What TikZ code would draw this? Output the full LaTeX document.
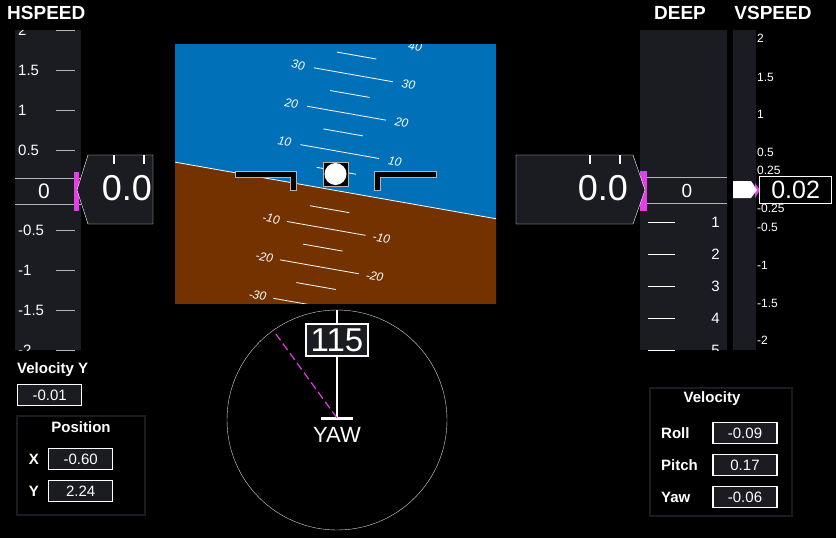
\documentclass[tikz,border=0pt]{standalone}
\usepackage{fontspec}
\setmainfont{Liberation Sans}
\usetikzlibrary{positioning,arrows.meta}
\definecolor{tapebg}{HTML}{1B1C22}
\definecolor{sky}{HTML}{0070B8}
\definecolor{ground}{HTML}{743200}
\definecolor{mag}{HTML}{E83CE8}
\definecolor{tick}{HTML}{B4B4B4}
\tikzset{
  title/.style={text=white, font=\fontsize{19}{19}\selectfont\bfseries, inner sep=0pt},
  tapenum/.style={text=white, font=\fontsize{15}{15}\selectfont, inner sep=0pt},
  pitchnum/.style={text=white, font=\fontsize{12}{12}\selectfont\itshape, inner sep=0pt},
  valbox/.style={draw=white, line width=1.2pt, fill=tapebg, text=white, minimum width=64pt, minimum height=21pt, inner sep=0pt, font=\fontsize{15}{15}\selectfont},
  panel/.style={draw=tapebg, line width=2pt},
  plabel/.style={text=white, font=\fontsize{15}{15}\selectfont\bfseries, inner sep=0pt},
}
\begin{document}
\begin{tikzpicture}[x=1pt, y=-1pt]
        % background
        \fill[black] (0,0) rectangle (836,538);
        \useasboundingbox (0,0) rectangle (836,538);

        % titles
        \node[title, anchor=west] (hspeed) at (7,13) {HSPEED};
        \node[title] (deep) at (680,13) {DEEP};
        \node[title] (vspeed) at (773,13) {VSPEED};

        % horizontal speed tape
        \fill[tapebg] (15,30) rectangle (81,350);
        \begin{scope}
            \clip (15,30) rectangle (81,350);
            \foreach \v/\t in {2/2,1.5/1.5,1/1,0.5/0.5,-0.5/-0.5,-1/-1,-1.5/-1.5,-2/-2} {
                \node[tapenum, anchor=west] at (18,190-\v*80) {\t};
                \draw[tick, line width=1pt] (56,190-\v*80) -- (75,190-\v*80);
            }
        \end{scope}
        \fill[tapebg] (15,178) rectangle (81,204);
        \draw[tick, line width=1pt] (15,178) -- (81,178) (15,204) -- (81,204);
        \node[tapenum, font=\fontsize{21}{21}\selectfont] (hzero) at (44,191) {0};
        \fill[mag] (74,172) rectangle (79,211);
        \draw[white, fill=tapebg] (88,155) -- (153,155) -- (153,224) -- (88,224) -- (77,190) -- cycle;
        \draw[white, line width=2pt] (114,155) -- (114,164) (144,155) -- (144,164);
        \node[text=white, font=\fontsize{36}{36}\selectfont, anchor=east, inner sep=0pt] (hval) at (152,188) {0.0};

        % attitude indicator
        \begin{scope}
            \clip (175,44) rectangle (496,303);
            \fill[sky] (175,44) rectangle (496,303);
            \begin{scope}[shift={(333,190)}, rotate=-10]
                \fill[ground] (-400,0) rectangle (400,400);
                \draw[white, line width=0.8pt] (-400,0) -- (400,0);
                \foreach \p in {10,20,30,40,-10,-20,-30,-40} {
                    \draw[white, line width=0.8pt] (-40,-\p*3.9) -- (40,-\p*3.9);
                    \node[pitchnum, rotate=-10] at (-56,-\p*3.9) {\p};
                    \node[pitchnum, rotate=-10] at (56,-\p*3.9) {\p};
                }
                \foreach \p in {5,15,25,35,-5,-15,-25,-35}
                    \draw[white, line width=0.8pt] (-20,-\p*3.9) -- (20,-\p*3.9);
            \end{scope}
        \end{scope}
        % aircraft symbol
        \draw[tick, fill=black] (235,171) -- (296,171) -- (296,190) -- (290,190) -- (290,177) -- (235,177) -- cycle;
        \draw[tick, fill=black] (436,171) -- (374,171) -- (374,190) -- (380,190) -- (380,177) -- (436,177) -- cycle;
        \draw[tick, fill=black] (323,162) rectangle (348,186);
        \fill[white] (335.5,174) circle (11);

        % compass
        \draw[white!85!black] (337,420) circle (110);
        \coordinate (ctop) at (337,310);
        \coordinate (ccen) at (337,418);
        \coordinate (cmag) at (273,330);
        \draw[white, line width=2pt] (ctop) -- (ccen);
        \draw[white, line width=3pt] (321,418) -- (353,418);
        \draw[mag, line width=1.2pt, dash pattern=on 8pt off 4pt] (ccen) -- (cmag);
        \node[draw=white, line width=1.5pt, fill=tapebg, text=white, font=\fontsize{33}{33}\selectfont, minimum width=62pt, minimum height=32pt, inner sep=0pt] (yawval) at (337,340) {115};
        \node[text=white, font=\fontsize{22}{22}\selectfont, inner sep=0pt] (yaw) at (337,435) {YAW};

        % velocity y
        \node[plabel, anchor=west] (vylabel) at (17,370) {Velocity Y};
        \node[valbox, anchor=north west] (vybox) at (17,384) {-0.01};

        % position panel
        \draw[panel] (17,416) rectangle (145,515);
        \node[plabel] (poslabel) at (81,427) {Position};
        \node[plabel] (xlabel) at (34,459) {X};
        \node[valbox, anchor=north west] (xbox) at (48,448) {-0.60};
        \node[plabel] (ylabel) at (34,491) {Y};
        \node[valbox, anchor=north west] (ybox) at (48,480) {2.24};

        % depth tape
        \fill[tapebg] (640,30) rectangle (727,350);
        \begin{scope}
            \clip (640,30) rectangle (727,350);
            \foreach \d in {1,...,5} {
                \node[tapenum, anchor=east] at (720,190+\d*32) {\d};
                \draw[white, line width=1pt] (648,190+\d*32) -- (675,190+\d*32);
            }
        \end{scope}
        \draw[tick, line width=1pt] (647,177) -- (727,177) (647,203) -- (727,203);
        \node[tapenum, font=\fontsize{19}{19}\selectfont] (dzero) at (687,191) {0};
        \fill[mag] (640,171) rectangle (647,211);
        \draw[white, fill=tapebg] (516,155) -- (633,155) -- (645,190) -- (633,224) -- (516,224) -- cycle;
        \draw[white, line width=2pt] (590,155) -- (590,164) (620,155) -- (620,164);
        \node[text=white, font=\fontsize{36}{36}\selectfont, anchor=east, inner sep=0pt] (dval) at (628,188) {0.0};

        % vertical speed tape
        \fill[tapebg] (733,30) rectangle (756,350);
        \foreach \y/\t in {38/2,77/1.5,114/1,152/0.5,170/0.25,208/-0.25,227/-0.5,265/-1,303/-1.5,340/-2}
            \node[text=white, font=\fontsize{12}{12}\selectfont, anchor=west, inner sep=0pt] at (757,\y) {\t};
        \fill[mag] (755,183) -- (760,190) -- (755,198) -- cycle;
        \fill[white] (733,181) -- (751,181) -- (757,190) -- (751,198) -- (733,198) -- cycle;
        \node[draw=white, line width=1.3pt, fill=black, text=white, font=\fontsize{25}{25}\selectfont, minimum width=72pt, minimum height=27pt, inner sep=0pt, anchor=west] (vval) at (759,190) {0.02};

        % velocity panel
        \draw[panel] (650,388) rectangle (792,516);
        \node[plabel] (vellabel) at (712,399) {Velocity};
        \foreach \y/\n/\v in {433/Roll/-0.09,465/Pitch/0.17,497/Yaw/-0.06} {
            \node[plabel, anchor=west] at (661,\y) {\n};
            \node[valbox] at (745,\y) {\v};
        }
    \end{tikzpicture}
\end{document}
